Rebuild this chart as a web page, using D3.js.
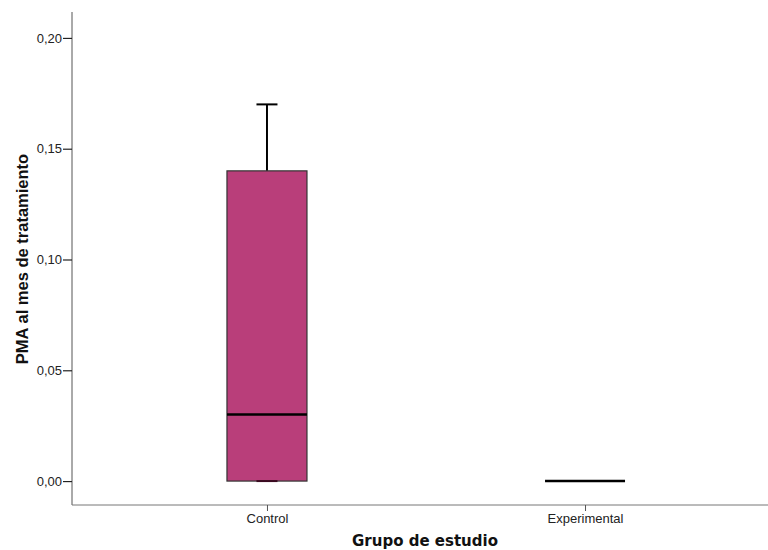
<!DOCTYPE html>
<html>
<head>
<meta charset="utf-8">
<script src="https://cdn.jsdelivr.net/npm/d3@7"></script>
<style>
  html, body { margin: 0; padding: 0; background: #fff; }
  svg { display: block; }
</style>
</head>
<body>
<svg id="chart" width="768" height="550"></svg>
<script>
// Box plot summary per study group
const groups = ["Control", "Experimental"];
const whiskerLow = [0, 0];
const q1 = [0, 0];
const median = [0.03, 0];
const q3 = [0.14, 0];
const whiskerHigh = [0.17, 0];
const yTicks = [0, 0.05, 0.10, 0.15, 0.20];

const W = 768, H = 550;
const margin = { left: 72, top: 12, bottom: 45 };
const plotRight = 780;
const svg = d3.select("#chart");

const y = d3.scaleLinear()
  .domain([-0.0108, 0.2117])
  .range([H - margin.bottom, margin.top]);

const x = d3.scalePoint()
  .domain(groups)
  .range([margin.left, plotRight])
  .padding(0.613);

const boxW = 80;
const capW = 21;
const tickFont = "Liberation Sans, Arial, sans-serif";

// axes
const yAxis = svg.append("g")
  .attr("transform", `translate(${margin.left},0)`)
  .call(d3.axisLeft(y).tickValues(yTicks).tickSize(9).tickPadding(1)
    .tickFormat(d => d3.format(".2f")(d).replace(".", ",")));
yAxis.select(".domain").attr("stroke", "#555").attr("d", `M0,${y.range()[1]}V${y.range()[0]}`);
yAxis.selectAll(".tick line").attr("stroke", "#222").attr("stroke-width", 1.2);
yAxis.selectAll(".tick text").attr("font-family", tickFont)
  .attr("font-size", 13).attr("fill", "#222");

const xAxis = svg.append("g")
  .attr("transform", `translate(0,${y.range()[0]})`)
  .call(d3.axisBottom(x).tickSize(6).tickPadding(3));
xAxis.select(".domain").attr("stroke", "#777").attr("d", `M${margin.left},0H${plotRight}`);
xAxis.selectAll(".tick line").attr("stroke", "#555");
xAxis.selectAll(".tick text").attr("font-family", tickFont)
  .attr("font-size", 13).attr("fill", "#222");

// boxes
const data = groups.map((g, i) => ({
  g, lo: whiskerLow[i], q1: q1[i], med: median[i], q3: q3[i], hi: whiskerHigh[i]
}));

const box = svg.append("g").selectAll("g").data(data).join("g");

// upper whisker
box.filter(d => d.hi > d.q3).append("line")
  .attr("x1", d => x(d.g)).attr("x2", d => x(d.g))
  .attr("y1", d => y(d.q3)).attr("y2", d => y(d.hi))
  .attr("stroke", "#000").attr("stroke-width", 2);
box.filter(d => d.hi > d.q3).append("line")
  .attr("x1", d => x(d.g) - capW / 2).attr("x2", d => x(d.g) + capW / 2)
  .attr("y1", d => y(d.hi)).attr("y2", d => y(d.hi))
  .attr("stroke", "#000").attr("stroke-width", 2);

// box body
box.filter(d => d.q3 > d.q1).append("rect")
  .attr("x", d => x(d.g) - boxW / 2)
  .attr("width", boxW)
  .attr("y", d => y(d.q3))
  .attr("height", d => y(d.q1) - y(d.q3))
  .attr("fill", "#B93E7A")
  .attr("stroke", "#333").attr("stroke-width", 1.2);

// lower whisker cap
box.filter(d => d.q3 > d.q1).append("line")
  .attr("x1", d => x(d.g) - capW / 2).attr("x2", d => x(d.g) + capW / 2)
  .attr("y1", d => y(d.lo)).attr("y2", d => y(d.lo))
  .attr("stroke", "#3a0a20").attr("stroke-width", 2);

// median
box.append("line")
  .attr("x1", d => x(d.g) - boxW / 2).attr("x2", d => x(d.g) + boxW / 2)
  .attr("y1", d => y(d.med)).attr("y2", d => y(d.med))
  .attr("stroke", "#000").attr("stroke-width", 2.5);

// axis titles
svg.append("text")
  .attr("transform", `translate(28,259) rotate(-90)`)
  .attr("text-anchor", "middle")
  .attr("font-family", "Liberation Sans, Arial, sans-serif")
  .attr("font-weight", "bold").attr("font-size", 16.5).attr("fill", "#111")
  .text("PMA al mes de tratamiento");

svg.append("text")
  .attr("x", 425).attr("y", 546)
  .attr("text-anchor", "middle")
  .attr("font-family", "DejaVu Sans, sans-serif")
  .attr("font-weight", "bold").attr("font-size", 15).attr("fill", "#111")
  .text("Grupo de estudio");
</script>
</body>
</html>
